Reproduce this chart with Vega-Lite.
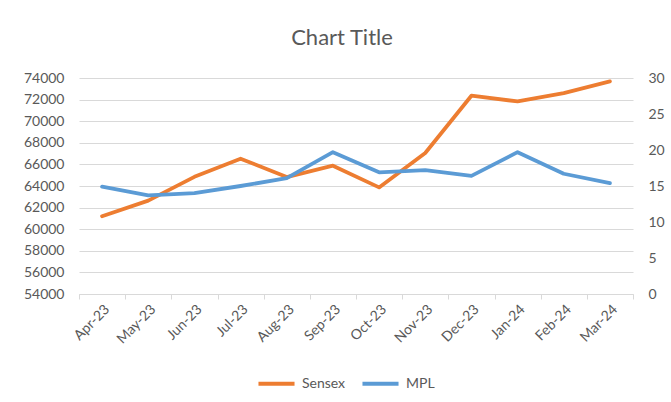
{
  "$schema": "https://vega.github.io/schema/vega-lite/v6.json",
  "width": 554,
  "height": 216,
  "autosize": {"type": "none"},
  "padding": {"left": 79, "top": 78, "right": 38, "bottom": 108},
  "background": "white",
  "title": {
    "text": "Chart Title",
    "font": "Lato",
    "fontSize": 22,
    "fontWeight": "normal",
    "color": "#595959",
    "anchor": "middle",
    "dx": -14,
    "offset": 21
  },
  "config": {
    "view": {"stroke": null},
    "axis": {
      "labelFont": "Lato",
      "labelFontSize": 14,
      "labelColor": "#595959",
      "titleFont": "Lato"
    },
    "legend": {"labelFont": "Lato", "labelFontSize": 14, "labelColor": "#595959"}
  },
  "data": {
    "values": [
      {"month": "Apr-23", "series": "Sensex", "value": 61200},
      {"month": "May-23", "series": "Sensex", "value": 62650},
      {"month": "Jun-23", "series": "Sensex", "value": 64850},
      {"month": "Jul-23", "series": "Sensex", "value": 66530},
      {"month": "Aug-23", "series": "Sensex", "value": 64830},
      {"month": "Sep-23", "series": "Sensex", "value": 65880},
      {"month": "Oct-23", "series": "Sensex", "value": 63870},
      {"month": "Nov-23", "series": "Sensex", "value": 67060},
      {"month": "Dec-23", "series": "Sensex", "value": 72360},
      {"month": "Jan-24", "series": "Sensex", "value": 71830},
      {"month": "Feb-24", "series": "Sensex", "value": 72600},
      {"month": "Mar-24", "series": "Sensex", "value": 73690},
      {"month": "Apr-23", "series": "MPL", "value": 14.9},
      {"month": "May-23", "series": "MPL", "value": 13.7},
      {"month": "Jun-23", "series": "MPL", "value": 14.0},
      {"month": "Jul-23", "series": "MPL", "value": 15.0},
      {"month": "Aug-23", "series": "MPL", "value": 16.1},
      {"month": "Sep-23", "series": "MPL", "value": 19.7},
      {"month": "Oct-23", "series": "MPL", "value": 16.9},
      {"month": "Nov-23", "series": "MPL", "value": 17.2},
      {"month": "Dec-23", "series": "MPL", "value": 16.4},
      {"month": "Jan-24", "series": "MPL", "value": 19.7},
      {"month": "Feb-24", "series": "MPL", "value": 16.7},
      {"month": "Mar-24", "series": "MPL", "value": 15.4}
    ]
  },
  "encoding": {
    "x": {
      "field": "month",
      "type": "ordinal",
      "sort": null,
      "bandPosition": 0.5,
      "scale": {"type": "band", "paddingInner": 0, "paddingOuter": 0},
      "axis": {
        "title": null,
        "labelAngle": -45,
        "labelAlign": "right",
        "labelBaseline": "top",
        "labelPadding": 3,
        "tickBand": "extent",
        "tickSize": 5,
        "tickColor": "#d9d9d9",
        "domainColor": "#d9d9d9",
        "domainWidth": 1,
        "grid": false
      }
    },
    "color": {
      "field": "series",
      "type": "nominal",
      "scale": {"domain": ["Sensex", "MPL"], "range": ["#ED7D31", "#5B9BD5"]},
      "legend": {
        "title": null,
        "orient": "none",
        "direction": "horizontal",
        "legendX": 177,
        "legendY": 285,
        "symbolType": "stroke",
        "symbolSize": 1300,
        "symbolStrokeWidth": 4,
        "labelOffset": 5,
        "columnPadding": 8
      }
    }
  },
  "layer": [
    {
      "transform": [{"filter": "datum.series === 'Sensex'"}],
      "mark": {"type": "line", "strokeWidth": 3.8, "strokeCap": "round", "strokeJoin": "round"},
      "encoding": {
        "y": {
          "field": "value",
          "type": "quantitative",
          "scale": {"domain": [54000, 74000], "nice": false, "zero": false},
          "axis": {
            "title": null,
            "orient": "left",
            "values": [54000, 56000, 58000, 60000, 62000, 64000, 66000, 68000, 70000, 72000, 74000],
            "format": "d",
            "domain": false,
            "ticks": false,
            "labelPadding": 15,
            "grid": true,
            "gridColor": "#d9d9d9",
            "gridWidth": 1
          }
        }
      }
    },
    {
      "transform": [{"filter": "datum.series === 'MPL'"}],
      "mark": {"type": "line", "strokeWidth": 3.8, "strokeCap": "round", "strokeJoin": "round"},
      "encoding": {
        "y": {
          "field": "value",
          "type": "quantitative",
          "scale": {"domain": [0, 30], "nice": false},
          "axis": {
            "title": null,
            "orient": "right",
            "values": [0, 5, 10, 15, 20, 25, 30],
            "domain": false,
            "ticks": false,
            "labelPadding": 15,
            "grid": false
          }
        }
      }
    }
  ],
  "resolve": {"scale": {"y": "independent"}}
}
